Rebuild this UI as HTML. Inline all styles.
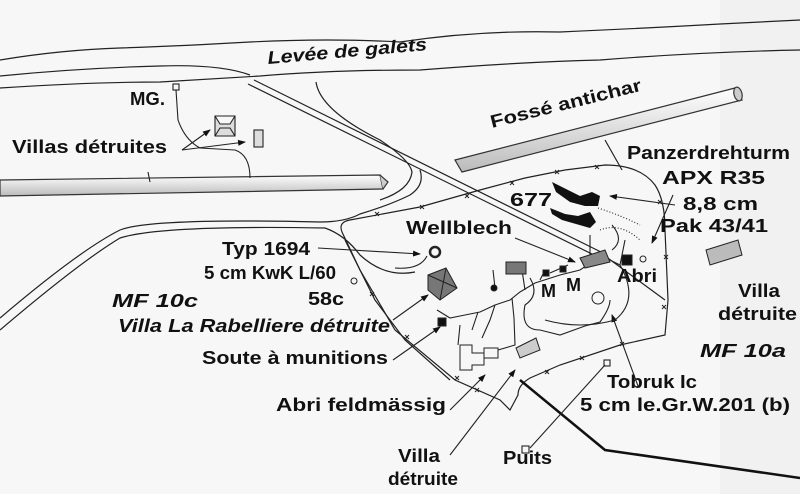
<!DOCTYPE html>
<html><head><meta charset="utf-8"><style>
html,body{margin:0;padding:0;background:#f7f7f7;}
svg{display:block}
text{font-family:"Liberation Sans",Arial,sans-serif;font-weight:bold;fill:#111;font-size:18px}
.i{font-style:italic}
</style></head><body>
<svg width="800" height="494" viewBox="0 0 800 494" xmlns="http://www.w3.org/2000/svg">
<defs>
<marker id="a" markerWidth="8" markerHeight="8" refX="7" refY="4" orient="auto" markerUnits="userSpaceOnUse"><path d="M0,1 L8,4 L0,7z" fill="#111"/></marker>
<linearGradient id="g" x1="0" y1="0" x2="0" y2="1"><stop offset="0" stop-color="#fff"/><stop offset="1" stop-color="#bbb"/></linearGradient>
</defs>
<rect width="800" height="494" fill="#f7f7f7"/>
<rect x="720" y="0" width="80" height="494" fill="#ececec" opacity="0.6"/>
<g fill="none" stroke="#222" stroke-width="1.2">
<path d="M0,60 Q60,50 120,48 T250,42 Q330,38 400,42 Q480,30 560,32 Q650,28 720,24 L800,20"/>
<path d="M0,76 Q80,68 160,66 Q220,64 250,75"/>
<path d="M0,88 Q90,82 160,82 Q230,78 260,76 Q330,70 420,70 Q520,62 600,60 Q700,52 800,50"/>
<path d="M248,84 L600,258"/>
<path d="M254,80 L605,254"/>
<path d="M605,256 L665,300"/>
<path d="M316,82 Q320,110 380,140 Q410,160 412,172 Q410,190 380,200"/>
<path d="M0,318 Q80,250 120,230 Q150,218 320,222 Q345,222 360,214 Q390,205 410,195 Q425,185 420,170"/>
<path d="M0,330 Q80,262 120,238 Q160,225 325,228 Q345,235 360,255 Q385,278 415,272"/>
<path d="M342,232 Q338,222 350,220 L420,207 L480,190 L525,178 L565,170 L605,165 Q640,165 655,185 Q665,200 665,230 L668,300 L665,335 L620,345 L560,365 L530,378 Q518,385 518,395 L510,410 L500,400 L455,380 L395,330 L360,270 Z"/>
<path d="M345,240 L375,300 L405,340 L450,380"/>
<path d="M605,140 L622,170"/>
</g>
<g stroke="#222" stroke-width="1">
<path d="M375,212l4,4m0,-4l-4,4 M420,205l4,4m0,-4l-4,4 M465,194l4,4m0,-4l-4,4 M510,181l4,4m0,-4l-4,4 M555,170l4,4m0,-4l-4,4 M595,165l4,4m0,-4l-4,4 M658,200l4,4m0,-4l-4,4 M664,255l4,4m0,-4l-4,4 M662,305l4,4m0,-4l-4,4 M620,342l4,4m0,-4l-4,4 M580,356l4,4m0,-4l-4,4 M545,370l4,4m0,-4l-4,4 M370,292l4,4m0,-4l-4,4 M405,335l4,4m0,-4l-4,4 M455,376l4,4m0,-4l-4,4 M475,388l4,4m0,-4l-4,4"/>
</g>
<g stroke="#333" stroke-width="1.2">
<polygon points="455,160 735,88 742,100 462,172" fill="url(#g)"/>
<ellipse cx="738" cy="94" rx="4" ry="7" fill="#ccc" transform="rotate(-14 738 94)"/>
<polygon points="0,180 380,175 383,189 0,196" fill="url(#g)"/>
<path d="M380,175 L388,182 L383,189" fill="#ccc"/>
</g>
<path d="M520,380 L605,450 L800,478" fill="none" stroke="#111" stroke-width="2.5"/>
<g fill="none" stroke="#222" stroke-width="1.1">
<rect x="173" y="84" width="6" height="6"/>
<path d="M176,90 L178,120 Q185,140 200,148 L235,150 Q250,155 250,178"/>
<path d="M182,150 L210,130" marker-end="url(#a)"/>
<path d="M182,150 L245,142" marker-end="url(#a)"/>
<path d="M148,172 L150,182"/>
<path d="M215,116 h20 v20 h-20 z M215,116 l5,8 h10 l5,-8 M215,136 l5,-8 h10 l5,8" fill="#ddd"/>
<rect x="254" y="130" width="9" height="17" fill="#ddd"/>
<path d="M318,248 L420,254" marker-end="url(#a)"/>
<path d="M393,320 L428,295" marker-end="url(#a)"/>
<path d="M393,360 L440,327" marker-end="url(#a)"/>
<path d="M450,410 L485,375" marker-end="url(#a)"/>
<path d="M450,455 L515,370" marker-end="url(#a)"/>
<path d="M530,448 L605,365"/><rect x="604" y="360" width="6" height="6"/><rect x="522" y="446" width="7" height="7"/>
<path d="M515,238 L575,262" marker-end="url(#a)"/>
<path d="M638,386 L612,315" marker-end="url(#a)"/>
<path d="M675,205 L610,196" marker-end="url(#a)"/>
<path d="M673,195 L652,243" marker-end="url(#a)"/>
<path d="M427,256 Q420,270 395,268"/>
<path d="M437,310 L450,318 L465,315 L480,312 L495,305 L510,300 L520,292 L535,283 L560,275 L580,270 L595,260"/>
<path d="M460,325 L458,345 M478,312 L472,330 M495,305 L490,320 L482,338 M512,298 L514,318 L515,345 L498,350 M495,288 L493,270 M525,290 L522,270 M540,280 L545,270 M550,273 L568,265"/>
<path d="M530,278 Q540,295 525,305 Q520,330 540,330 L560,335 L585,326 L600,322 Q610,308 610,300"/>
<path d="M620,265 Q640,300 615,320 Q580,330 545,320"/>
<path d="M590,255 L590,235 M612,250 Q625,240 612,225 M610,260 L620,265 L625,240"/>
<path d="M598,208 Q620,215 640,225" stroke-dasharray="1 2"/>
<path d="M600,230 Q620,222 640,240" stroke-dasharray="1 2"/>
</g>
<g stroke="#222" stroke-width="1">
<path d="M428,275 L446,268 L457,288 L440,300 L428,290 Z" fill="#777"/>
<path d="M428,275 L457,288 M446,268 L440,300" fill="none"/>
<rect x="506" y="262" width="20" height="12" fill="#777"/>
<path d="M580,258 L605,250 L610,262 L585,268 Z" fill="#888"/>
<path d="M516,348 L536,338 L540,350 L520,358 Z" fill="#ccc"/>
<path d="M706,250 L738,240 L742,255 L710,265 Z" fill="#bbb"/>
<rect x="438" y="318" width="8" height="8" fill="#111"/>
<rect x="622" y="255" width="10" height="10" fill="#111"/>
<rect x="543" y="270" width="6" height="6" fill="#111"/>
<rect x="560" y="266" width="6" height="6" fill="#111"/>
<circle cx="494" cy="288" r="3" fill="#111"/>
<circle cx="435" cy="252" r="5" fill="none" stroke-width="2.5"/>
<circle cx="598" cy="298" r="6" fill="none"/>
<circle cx="354" cy="281" r="3" fill="none"/>
<circle cx="643" cy="259" r="3" fill="none"/>
<path d="M460,345 h12 v8 h12 v12 h-12 v5 h-12 z M484,348 h14 v10 h-14z" fill="none"/>
</g>
<g fill="#111">
<path d="M552,182 L568,190 L580,196 L592,192 L600,196 L598,206 L585,206 L570,202 L556,192 Z"/>
<path d="M550,208 L565,214 L578,216 L590,212 L596,222 L590,228 L576,224 L562,220 L552,214 Z"/>
</g>
<text class="i" x="268" y="64" textLength="160" lengthAdjust="spacingAndGlyphs" transform="rotate(-5 268 64)">Levée de galets</text>
<text x="492" y="128" textLength="155" lengthAdjust="spacingAndGlyphs" transform="rotate(-14 492 128)">Fossé antichar</text>
<text x="130" y="105" textLength="35" lengthAdjust="spacingAndGlyphs">MG.</text>
<text x="12" y="153" textLength="155" lengthAdjust="spacingAndGlyphs">Villas détruites</text>
<text x="627" y="159" textLength="163" lengthAdjust="spacingAndGlyphs">Panzerdrehturm</text>
<text x="662" y="184" textLength="103" lengthAdjust="spacingAndGlyphs">APX R35</text>
<text x="683" y="210" textLength="75" lengthAdjust="spacingAndGlyphs">8,8 cm</text>
<text x="660" y="232" textLength="108" lengthAdjust="spacingAndGlyphs">Pak 43/41</text>
<text x="510" y="206" textLength="42" lengthAdjust="spacingAndGlyphs">677</text>
<text x="406" y="234" textLength="106" lengthAdjust="spacingAndGlyphs">Wellblech</text>
<text x="222" y="255" textLength="88" lengthAdjust="spacingAndGlyphs">Typ 1694</text>
<text x="204" y="279" textLength="132" lengthAdjust="spacingAndGlyphs">5 cm KwK L/60</text>
<text x="308" y="305" textLength="36" lengthAdjust="spacingAndGlyphs">58c</text>
<text class="i" x="112" y="307" textLength="86" lengthAdjust="spacingAndGlyphs">MF 10c</text>
<text class="i" x="118" y="332" textLength="272" lengthAdjust="spacingAndGlyphs">Villa La Rabelliere détruite</text>
<text x="202" y="364" textLength="186" lengthAdjust="spacingAndGlyphs">Soute à munitions</text>
<text x="276" y="411" textLength="170" lengthAdjust="spacingAndGlyphs">Abri  feldmässig</text>
<text x="398" y="462" textLength="42" lengthAdjust="spacingAndGlyphs">Villa</text>
<text x="388" y="485" textLength="70" lengthAdjust="spacingAndGlyphs">détruite</text>
<text x="503" y="464" textLength="49" lengthAdjust="spacingAndGlyphs">Puits</text>
<text x="607" y="388" textLength="90" lengthAdjust="spacingAndGlyphs">Tobruk Ic</text>
<text x="580" y="411" textLength="210" lengthAdjust="spacingAndGlyphs">5 cm le.Gr.W.201 (b)</text>
<text x="617" y="282" textLength="40" lengthAdjust="spacingAndGlyphs">Abri</text>
<text x="541" y="297" font-size="19">M</text>
<text x="566" y="291" font-size="19">M</text>
<text x="738" y="297" textLength="42" lengthAdjust="spacingAndGlyphs">Villa</text>
<text x="718" y="320" textLength="79" lengthAdjust="spacingAndGlyphs">détruite</text>
<text class="i" x="700" y="357" textLength="86" lengthAdjust="spacingAndGlyphs">MF 10a</text>
</svg>
</body></html>
